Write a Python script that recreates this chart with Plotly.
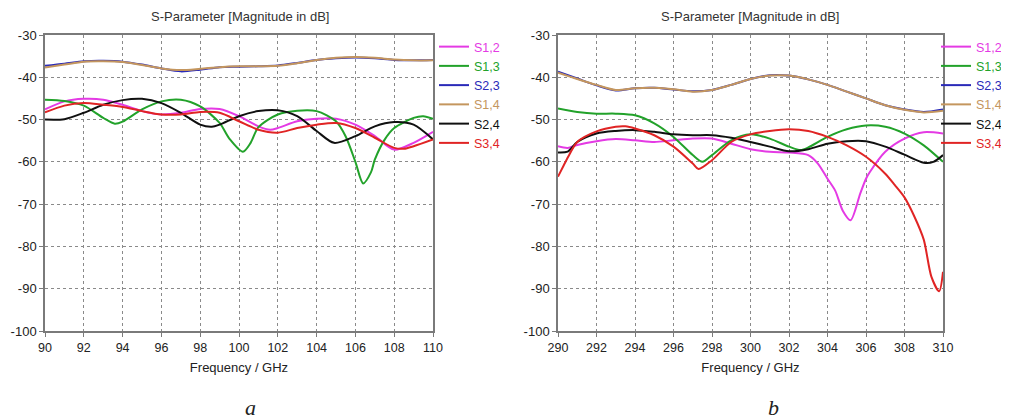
import plotly.graph_objects as go

# ---------------- data: plot (a), 90-110 GHz ----------------
x_a_smooth = [90, 91, 92, 93, 94, 95, 96, 97, 98, 99, 100, 101, 102, 103, 104, 105, 106, 107, 108, 109, 110]
s23_a = [-37.3, -36.8, -36.2, -36.1, -36.3, -37.0, -37.9, -38.6, -38.2, -37.6, -37.5, -37.4, -37.2, -36.6, -35.9, -35.5, -35.3, -35.5, -35.9, -36.0, -35.9]
s14_a = [-37.7, -37.0, -36.3, -36.2, -36.4, -37.1, -37.9, -38.3, -38.0, -37.6, -37.4, -37.4, -37.3, -36.7, -35.9, -35.4, -35.2, -35.4, -35.8, -36.0, -36.0]

x13_a = [90, 91, 92, 93, 93.6, 94, 95, 96, 97, 98, 99, 99.5, 100.2, 100.6, 101, 102, 103, 104, 105, 105.5, 106, 106.4, 106.8, 107, 107.5, 108, 109, 109.5, 110]
s13_a = [-45.3, -45.6, -46.7, -49.6, -51.0, -50.5, -47.6, -45.7, -45.3, -46.9, -50.8, -54.5, -57.6, -55.5, -51.8, -48.8, -47.9, -48.0, -50.4, -54.0, -60.0, -65.1, -62.5, -59.5, -54.8, -52.0, -49.6, -49.2, -49.8]

x24_a = [90, 91, 92, 93, 94, 95, 96, 97, 98, 98.6, 99, 100, 101, 102, 103, 104, 104.9, 106, 107, 108, 109, 110]
s24_a = [-50.0, -49.9, -48.4, -46.5, -45.4, -45.1, -46.1, -48.4, -51.2, -51.7, -51.2, -49.2, -48.0, -47.8, -49.2, -52.7, -55.5, -53.9, -51.6, -50.6, -51.2, -54.7]

x12_a = [90, 91, 92, 93, 94, 95, 96, 97, 98, 99, 100, 101, 101.6, 102, 103, 104, 105, 106, 107, 108, 109, 110]
s12_a = [-47.6, -45.7, -45.1, -45.3, -46.5, -48.0, -48.8, -48.4, -47.5, -47.5, -49.2, -51.6, -52.4, -52.0, -50.4, -49.8, -49.8, -51.2, -53.9, -57.1, -55.5, -52.9]

x34_a = [90, 91, 92, 93, 94, 95, 96, 97, 98, 99, 100, 101, 102, 103, 104, 105, 106, 107, 108, 108.5, 109, 110]
s34_a = [-48.3, -46.7, -46.1, -46.5, -47.0, -48.0, -48.8, -48.8, -48.2, -48.4, -50.4, -52.4, -53.1, -52.0, -51.2, -50.8, -52.0, -54.3, -56.7, -56.9, -56.3, -54.7]

# ---------------- data: plot (b), 290-310 GHz ----------------
x_b_smooth = [290, 291, 292, 293, 294, 295, 296, 297, 298, 299, 300, 301, 302, 303, 304, 305, 306, 307, 308, 309, 310]
s23_b = [-38.7, -40.3, -41.9, -43.1, -42.6, -42.5, -42.9, -43.3, -43.0, -41.8, -40.4, -39.5, -39.6, -40.5, -41.8, -43.4, -45.0, -46.6, -47.6, -48.2, -47.6]
s14_b = [-38.9, -40.4, -41.8, -43.0, -42.6, -42.5, -42.8, -43.4, -43.0, -41.8, -40.4, -39.6, -39.6, -40.5, -41.8, -43.4, -45.0, -46.6, -47.7, -48.3, -47.9]

x13_b = [290, 291, 292, 293, 294, 295, 296, 297, 297.5, 298, 299, 300, 301, 302, 302.6, 303, 304, 305, 306, 307, 308, 309, 310]
s13_b = [-47.4, -48.2, -48.6, -48.6, -49.0, -50.9, -54.1, -58.4, -60.0, -58.4, -54.9, -53.5, -54.5, -56.4, -57.2, -56.6, -54.1, -52.3, -51.4, -51.7, -53.3, -56.1, -60.0]

x24_b = [290, 290.5, 291, 292, 293, 294, 295, 296, 297, 298, 299, 300, 301, 302, 303, 304, 305, 306, 307, 308, 309, 309.5, 310]
s24_b = [-57.8, -57.6, -55.3, -53.3, -52.7, -52.5, -52.9, -53.5, -53.7, -53.7, -54.3, -55.3, -56.4, -57.5, -57.0, -55.7, -55.1, -55.1, -56.4, -58.3, -60.2, -60.0, -58.4]

x12_b = [290, 290.5, 291, 292, 293, 294, 295, 296, 297, 298, 299, 300, 301, 302, 303, 303.5, 304, 304.4, 304.8, 305.2, 305.7, 306, 306.2, 307, 308, 309, 310]
s12_b = [-56.3, -56.7, -56.0, -55.1, -54.6, -54.9, -55.3, -54.9, -54.5, -54.5, -55.7, -57.0, -57.6, -57.8, -58.4, -60.4, -64.0, -66.8, -71.6, -73.8, -67.5, -64.0, -62.4, -57.6, -54.5, -53.0, -53.3]

x34_b = [290, 290.3, 290.6, 291, 292, 293, 293.5, 294, 295, 296, 297, 297.3, 298, 299, 300, 301, 302, 303, 304, 305, 306, 307, 307.5, 308, 308.5, 309, 309.4, 309.8, 310]
s34_b = [-63.5, -60.8, -58.2, -55.3, -52.8, -51.7, -51.6, -52.1, -53.7, -56.4, -60.4, -61.7, -59.6, -55.3, -53.5, -52.7, -52.3, -52.7, -54.1, -56.1, -58.8, -62.8, -65.5, -68.4, -72.8, -78.4, -87.2, -90.6, -86.0]

y_ticks = [-30, -40, -50, -60, -70, -80, -90, -100]
y_tick_text = ["-30", "-40", "-50", "-60", "-70", "-80", "-90", "-100"]
x_ticks_a = [90, 92, 94, 96, 98, 100, 102, 104, 106, 108, 110]
x_ticks_b = [290, 292, 294, 296, 298, 300, 302, 304, 306, 308, 310]

names = ["S1,2", "S1,3", "S2,3", "S1,4", "S2,4", "S3,4"]
colors = ["#e43ae4", "#22a22a", "#2a2ab8", "#c4965e", "#101010", "#e02424"]

series_a = [(x12_a, s12_a), (x13_a, s13_a), (x_a_smooth, s23_a), (x_a_smooth, s14_a), (x24_a, s24_a), (x34_a, s34_a)]
series_b = [(x12_b, s12_b), (x13_b, s13_b), (x_b_smooth, s23_b), (x_b_smooth, s14_b), (x24_b, s24_b), (x34_b, s34_b)]

fig = go.Figure()
for (xs, ys), n, c in zip(series_a, names, colors):
    fig.add_trace(go.Scatter(x=xs, y=ys, mode="lines", name=f"<span style='color:{c}'>{n}</span>",
                             line=dict(color=c, width=2, shape="spline", smoothing=0.8),
                             xaxis="x", yaxis="y", legend="legend"))
for (xs, ys), n, c in zip(series_b, names, colors):
    fig.add_trace(go.Scatter(x=xs, y=ys, mode="lines", name=f"<span style='color:{c}'>{n}</span>",
                             line=dict(color=c, width=2, shape="spline", smoothing=0.8),
                             xaxis="x2", yaxis="y2", legend="legend2"))

# the page body has an 8px margin, so the figure is offset by 8px
OFF = 8
W, H = 1009 - OFF, 419 - OFF


def px(v):
    return (v - OFF) / W


def py(v):
    return 1 - (v - OFF) / H


ydom = [py(331), py(35)]
font = "Liberation Sans, Arial, sans-serif"


def xaxis(dom, ticks, anchor):
    return dict(domain=dom, range=[ticks[0], ticks[-1]], tickvals=ticks, anchor=anchor,
                showgrid=True, gridcolor="#8a8a8a", griddash="dot", gridwidth=1,
                showline=True, linecolor="#7a7a7a", linewidth=1.5, mirror=True,
                ticks="outside", ticklen=4, tickcolor="#7a7a7a",
                tickfont=dict(family=font, size=12.5, color="#222"),
                title=dict(text="Frequency / GHz", font=dict(family=font, size=13, color="#222"), standoff=9),
                zeroline=False)


def yaxis(anchor):
    return dict(domain=ydom, range=[-100, -30], tickvals=y_ticks, ticktext=y_tick_text, anchor=anchor,
                showgrid=True, gridcolor="#8a8a8a", griddash="dot", gridwidth=1,
                showline=True, linecolor="#7a7a7a", linewidth=1.5, mirror=True,
                ticks="outside", ticklen=4, tickcolor="#7a7a7a",
                tickfont=dict(family=font, size=13, color="#222"), zeroline=False)


def label(text, x, y, fam, size, color):
    return dict(text=text, x=px(x), y=py(y), xref="paper", yref="paper", xanchor="center", yanchor="middle",
                showarrow=False, font=dict(family=fam, size=size, color=color))


fig.update_layout(
    width=W, height=H, margin=dict(l=0, r=0, t=0, b=0, autoexpand=False),
    paper_bgcolor="white", plot_bgcolor="white",
    xaxis=xaxis([px(45), px(433)], x_ticks_a, "y"),
    yaxis=yaxis("x"),
    xaxis2=xaxis([px(558), px(943)], x_ticks_b, "y2"),
    yaxis2=yaxis("x2"),
    legend=dict(x=px(434), y=py(32), xanchor="left", yanchor="top", bgcolor="rgba(0,0,0,0)",
                font=dict(family=font, size=12.5), tracegroupgap=0),
    legend2=dict(x=px(1007), y=py(32), xanchor="right", yanchor="top", bgcolor="rgba(0,0,0,0)",
                 font=dict(family=font, size=12.5), tracegroupgap=0),
    showlegend=True,
    annotations=[
        label("S-Parameter [Magnitude in dB]", 240, 17, font, 13, "#333"),
        label("S-Parameter [Magnitude in dB]", 750, 17, font, 13, "#333"),
        label("<i>a</i>", 250, 407, "Liberation Serif, serif", 22, "#222"),
        label("<i>b</i>", 773, 407, "Liberation Serif, serif", 22, "#222"),
    ],
)

fig.write_html("out.html")
